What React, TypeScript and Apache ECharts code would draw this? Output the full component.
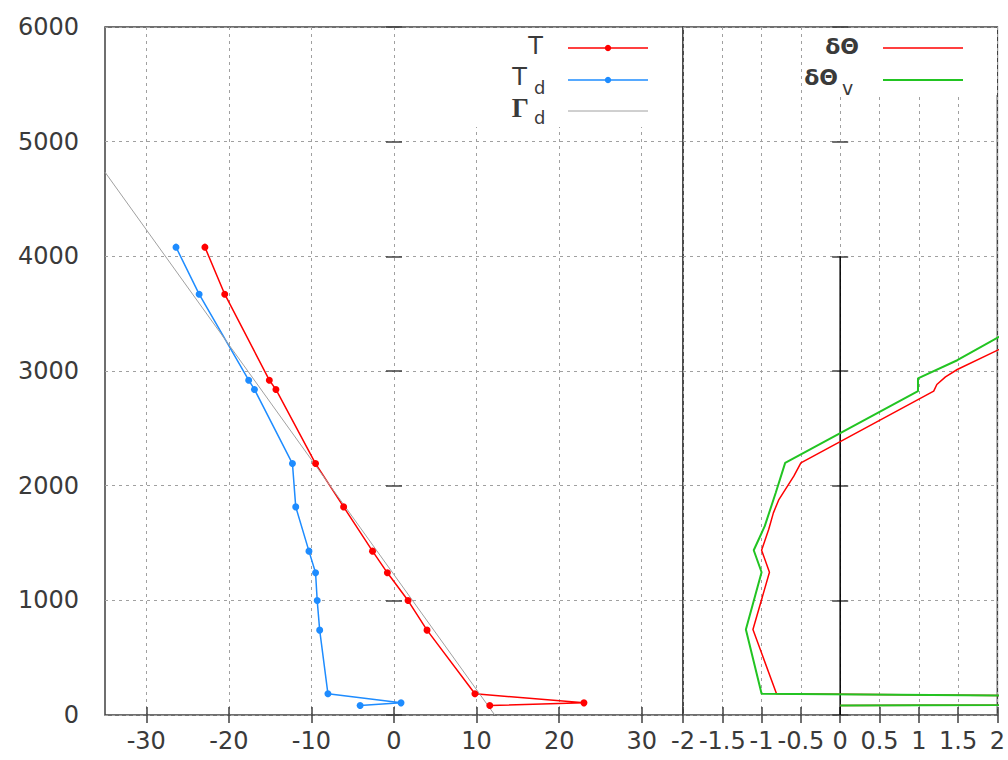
import React, { useEffect, useRef } from 'react';
import * as echarts from 'echarts';

// Sounding levels (m) shared by temperature and dew point
const heights = [83, 106, 185, 740, 998, 1240, 1429, 1815, 2193, 2839, 2920, 3670, 4080];
const tempT = [11.6, 23.0, 9.8, 4.0, 1.7, -0.8, -2.6, -6.1, -9.5, -14.3, -15.1, -20.5, -22.9];
const dewT = [-4.1, 0.85, -8.0, -9.0, -9.3, -9.5, -10.3, -11.9, -12.3, -16.9, -17.6, -23.6, -26.4];

// Dry adiabat reference line (end points)
const dryAdiabatT = [12.2, -35];
const dryAdiabatH = [0, 4734];

// Potential temperature anomaly profiles
const dThetaH = [83, 106, 185, 745, 1245, 1437, 1618, 1763, 1879, 2083, 2199, 2824, 2882, 2949, 3013, 3673];
const dTheta = [0, 13.5, -0.81, -1.11, -0.9, -1.0, -0.91, -0.85, -0.78, -0.59, -0.5, 1.19, 1.23, 1.34, 1.49, 3.5];

const dThetaVH = [83, 106, 185, 745, 1245, 1437, 1647, 1938, 2199, 2824, 2935, 3094, 3673];
const dThetaV = [0, 14.8, -1.0, -1.2, -1.0, -1.1, -0.96, -0.82, -0.7, 0.99, 0.99, 1.49, 3.0];

// Zero reference in the anomaly panel
const zeroX = [0, 0];
const zeroH = [0, 4000];

// Tick values
const tempTicks = [-30, -20, -10, 0, 10, 20, 30];

const pairs = (xs: number[], ys: number[]) => xs.map((x, i) => [x, ys[i]]);

const FONT = 'DejaVu Sans';
const TEXT = '#3a3a3a';
const FRAME = '#404040';
const RED = '#ff0000';
const BLUE = '#1e8cff';
const GRAY = '#a0a0a0';
const GREEN = '#22c422';

const gridLine = { show: true, lineStyle: { color: '#a0a0a0', type: [3, 4], width: 1 } };
const tickIn = { show: true, inside: true, length: 8, lineStyle: { color: FRAME, width: 1.5 } };
const label = { color: TEXT, fontFamily: FONT, fontSize: 24 };

// Key boxes drawn in the top-right corner of each panel
const keyText = (text: string, x: number, y: number, size: number, align: string, extra: any = {}) => ({
  type: 'text',
  x,
  y,
  z: 102,
  silent: true,
  style: {
    text,
    fill: TEXT,
    fontFamily: FONT,
    fontSize: size,
    align,
    verticalAlign: 'middle',
    ...extra,
  },
});
const keyLine = (x1: number, x2: number, y: number, color: string, width: number) => ({
  type: 'line',
  z: 101,
  silent: true,
  shape: { x1, y1: y, x2, y2: y },
  style: { stroke: color, lineWidth: width },
});
const keyDot = (cx: number, cy: number, color: string) => ({
  type: 'circle',
  z: 102,
  silent: true,
  shape: { cx, cy, r: 3.2 },
  style: { fill: color },
});

const keyGraphics = [
  { type: 'rect', z: 100, silent: true, shape: { x: 471, y: 28, width: 211, height: 99 }, style: { fill: '#ffffff' } },
  { type: 'rect', z: 100, silent: true, shape: { x: 806, y: 28, width: 191, height: 67 }, style: { fill: '#ffffff' } },
  // temperature key
  keyText('T', 543, 46, 24, 'right'),
  keyLine(568, 648, 48, RED, 1.5),
  keyDot(608, 48, RED),
  keyText('T', 527, 77, 24, 'right'),
  keyText('d', 534, 87, 18, 'left'),
  keyLine(568, 648, 80, BLUE, 1.5),
  keyDot(608, 80, BLUE),
  keyText('Γ', 529, 108, 27, 'right', { fontFamily: 'Liberation Serif', fontWeight: 'bold' }),
  keyText('d', 534, 117, 18, 'left'),
  keyLine(568, 648, 111, GRAY, 1),
  // anomaly key
  keyText('δΘ', 859, 46, 22, 'right', { fontWeight: 'bold' }),
  keyLine(883, 963, 48, RED, 1.5),
  keyText('δΘ', 838, 77, 22, 'right', { fontWeight: 'bold' }),
  keyText('v', 842, 88, 19, 'left'),
  keyLine(883, 963, 80, GREEN, 2),
];

const option: any = {
  animation: false,
  backgroundColor: '#ffffff',
  grid: [
    { left: 105, top: 27, width: 578, height: 688, show: true, borderColor: FRAME, borderWidth: 1.5, backgroundColor: 'transparent' },
    { left: 683, top: 27, width: 315, height: 688, show: true, borderColor: FRAME, borderWidth: 1.5, backgroundColor: 'transparent' },
  ],
  xAxis: [
    {
      type: 'value', gridIndex: 0, position: 'bottom', min: -35, max: 35,
      axisLine: { show: false },
      axisTick: { ...tickIn, customValues: tempTicks },
      axisLabel: { ...label, margin: 14, customValues: tempTicks, formatter: (v: number) => String(v) },
      splitLine: gridLine,
    },
    {
      type: 'value', gridIndex: 0, position: 'top', min: -35, max: 35,
      axisLine: { show: false },
      axisTick: { ...tickIn, customValues: tempTicks },
      axisLabel: { show: false, customValues: tempTicks },
      splitLine: { show: false },
    },
    {
      type: 'value', gridIndex: 1, position: 'bottom', min: -2, max: 2, interval: 0.5,
      axisLine: { show: false },
      axisTick: tickIn,
      axisLabel: { ...label, margin: 14, formatter: (v: number) => String(v), showMinLabel: true, showMaxLabel: true },
      splitLine: gridLine,
    },
    {
      type: 'value', gridIndex: 1, position: 'top', min: -2, max: 2, interval: 0.5,
      axisLine: { show: false },
      axisTick: tickIn,
      axisLabel: { show: false },
      splitLine: { show: false },
    },
  ],
  yAxis: [
    {
      type: 'value', gridIndex: 0, position: 'left', min: 0, max: 6000, interval: 1000,
      axisLine: { show: false },
      axisTick: tickIn,
      axisLabel: { ...label, margin: 26, formatter: (v: number) => String(v) },
      splitLine: gridLine,
    },
    {
      type: 'value', gridIndex: 0, position: 'right', min: 0, max: 6000, interval: 1000,
      axisLine: { show: false }, axisTick: tickIn, axisLabel: { show: false }, splitLine: { show: false },
    },
    {
      type: 'value', gridIndex: 1, position: 'left', min: 0, max: 6000, interval: 1000,
      axisLine: { show: false }, axisTick: tickIn, axisLabel: { show: false }, splitLine: gridLine,
    },
    {
      type: 'value', gridIndex: 1, position: 'right', min: 0, max: 6000, interval: 1000,
      axisLine: { show: false }, axisTick: tickIn, axisLabel: { show: false }, splitLine: { show: false },
    },
  ],
  graphic: keyGraphics,
  series: [
    {
      name: 'T', type: 'line', xAxisIndex: 0, yAxisIndex: 0, data: pairs(tempT, heights),
      symbol: 'circle', symbolSize: 7, lineStyle: { color: RED, width: 1.5 }, itemStyle: { color: RED }, silent: true, z: 3,
    },
    {
      name: 'T_d', type: 'line', xAxisIndex: 0, yAxisIndex: 0, data: pairs(dewT, heights),
      symbol: 'circle', symbolSize: 7, lineStyle: { color: BLUE, width: 1.5 }, itemStyle: { color: BLUE }, silent: true, z: 3,
    },
    {
      name: 'Γ_d', type: 'line', xAxisIndex: 0, yAxisIndex: 0, data: pairs(dryAdiabatT, dryAdiabatH),
      symbol: 'none', lineStyle: { color: GRAY, width: 1 }, itemStyle: { color: GRAY }, silent: true, z: 3,
    },
    {
      name: 'zero', type: 'line', xAxisIndex: 2, yAxisIndex: 2, data: pairs(zeroX, zeroH),
      symbol: 'none', lineStyle: { color: '#000000', width: 1.5 }, silent: true, z: 2,
    },
    {
      name: 'δΘ', type: 'line', xAxisIndex: 2, yAxisIndex: 2, data: pairs(dTheta, dThetaH),
      symbol: 'none', lineStyle: { color: RED, width: 1.5 }, itemStyle: { color: RED }, silent: true, z: 3,
    },
    {
      name: 'δΘ_v', type: 'line', xAxisIndex: 2, yAxisIndex: 2, data: pairs(dThetaV, dThetaVH),
      symbol: 'none', lineStyle: { color: GREEN, width: 2 }, itemStyle: { color: GREEN }, silent: true, z: 4,
    },
  ],
};

export default function App() {
  const ref = useRef<HTMLDivElement>(null);
  useEffect(() => {
    const chart = echarts.init(ref.current!, undefined, { renderer: 'svg' });
    chart.setOption(option);
    return () => chart.dispose();
  }, []);
  return (
    <div
      ref={ref}
      style={{ position: 'fixed', left: 0, top: 0, width: 1008, height: 760, background: '#ffffff' }}
    />
  );
}
